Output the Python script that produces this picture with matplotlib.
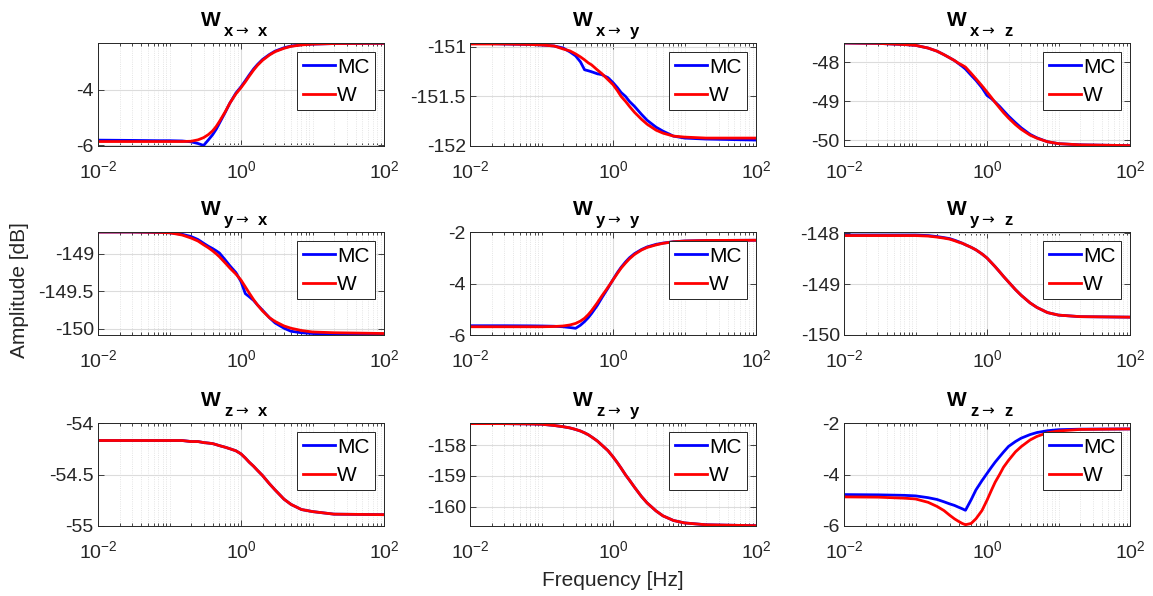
import numpy as np
import matplotlib
matplotlib.use('Agg')
import matplotlib.pyplot as plt
from matplotlib.ticker import LogLocator, NullFormatter, FormatStrFormatter

plt.rcParams['font.family'] = ['Liberation Sans', 'DejaVu Sans']
plt.rcParams['mathtext.fontset'] = 'custom'
plt.rcParams['mathtext.rm'] = 'Liberation Sans'
plt.rcParams['mathtext.it'] = 'Liberation Sans:italic'
plt.rcParams['mathtext.bf'] = 'Liberation Sans:bold'

# frequency points [Hz]
freq = [0.01, 0.03, 0.07, 0.1, 0.15, 0.2, 0.25, 0.3, 0.35, 0.4, 0.45, 0.5, 0.6, 0.7, 0.85,
        1.0, 1.15, 1.3, 1.5, 1.7, 2, 2.5, 3, 4, 5, 7, 10, 20, 100]

# panel titles: W with subscript "input -> output"
sub_in = ['x', 'x', 'x', 'y', 'y', 'y', 'z', 'z', 'z']
sub_out = ['x', 'y', 'z', 'x', 'y', 'z', 'x', 'y', 'z']

# amplitude [dB], MC = Monte Carlo, W = model
mc_xx = [-5.81, -5.82, -5.83, -5.83, -5.84, -5.87, -5.93, -6.0, -5.8, -5.62, -5.42, -5.2, -4.82, -4.48, -4.12,
         -3.9, -3.68, -3.48, -3.26, -3.1, -2.92, -2.74, -2.62, -2.5, -2.44, -2.39, -2.37, -2.35, -2.34]
w_xx = [-5.86, -5.86, -5.86, -5.86, -5.86, -5.85, -5.8, -5.72, -5.61, -5.48, -5.32, -5.14, -4.8, -4.48, -4.15,
        -3.93, -3.72, -3.52, -3.3, -3.13, -2.95, -2.76, -2.64, -2.52, -2.45, -2.4, -2.37, -2.35, -2.34]

mc_xy = [-150.96, -150.97, -150.975, -150.98, -150.99, -151.01, -151.05, -151.09, -151.15, -151.23, -151.24,
         -151.25, -151.27, -151.28, -151.31, -151.36, -151.41, -151.46, -151.5, -151.55, -151.6, -151.68,
         -151.74, -151.81, -151.85, -151.9, -151.92, -151.93, -151.94]
w_xy = [-150.97, -150.97, -150.975, -150.98, -150.99, -151.02, -151.04, -151.07, -151.1, -151.13, -151.16,
        -151.18, -151.23, -151.27, -151.33, -151.38, -151.44, -151.5, -151.55, -151.6, -151.66, -151.73,
        -151.78, -151.84, -151.87, -151.9, -151.91, -151.92, -151.92]

mc_xz = [-47.5, -47.51, -47.54, -47.56, -47.63, -47.71, -47.8, -47.88, -47.95, -48.03, -48.1, -48.17, -48.33,
         -48.46, -48.65, -48.85, -48.93, -49.02, -49.13, -49.24, -49.38, -49.55, -49.68, -49.85, -49.94,
         -50.04, -50.09, -50.12, -50.14]
w_xz = [-47.5, -47.51, -47.54, -47.56, -47.63, -47.71, -47.8, -47.88, -47.95, -48.02, -48.07, -48.12, -48.28,
        -48.42, -48.6, -48.76, -48.9, -49.03, -49.17, -49.29, -49.43, -49.6, -49.72, -49.87, -49.95,
        -50.04, -50.09, -50.12, -50.14]

mc_yx = [-148.71, -148.71, -148.715, -148.72, -148.74, -148.77, -148.81, -148.86, -148.9, -148.93, -148.96,
         -148.99, -149.08, -149.16, -149.25, -149.37, -149.53, -149.57, -149.62, -149.68, -149.75, -149.85,
         -149.92, -149.99, -150.03, -150.05, -150.06, -150.07, -150.07]
w_yx = [-148.71, -148.71, -148.715, -148.72, -148.75, -148.79, -148.83, -148.88, -148.92, -148.96, -149.0,
        -149.04, -149.12, -149.19, -149.27, -149.35, -149.44, -149.52, -149.61, -149.68, -149.76, -149.85,
        -149.9, -149.96, -149.99, -150.02, -150.04, -150.05, -150.06]

mc_yy = [-5.64, -5.64, -5.645, -5.65, -5.66, -5.68, -5.71, -5.74, -5.62, -5.48, -5.33, -5.17, -4.86, -4.55,
         -4.18, -3.85, -3.58, -3.37, -3.16, -3.0, -2.84, -2.68, -2.58, -2.48, -2.43, -2.38, -2.35, -2.33, -2.32]
w_yy = [-5.68, -5.68, -5.68, -5.68, -5.67, -5.65, -5.61, -5.55, -5.46, -5.35, -5.21, -5.06, -4.76, -4.48,
        -4.15, -3.86, -3.61, -3.4, -3.2, -3.04, -2.87, -2.7, -2.6, -2.5, -2.44, -2.38, -2.35, -2.33, -2.32]

mc_yz = [-148.04, -148.04, -148.04, -148.04, -148.05, -148.07, -148.09, -148.11, -148.14, -148.17, -148.2,
         -148.23, -148.28, -148.33, -148.41, -148.49, -148.58, -148.66, -148.76, -148.85, -148.96, -149.11,
         -149.22, -149.37, -149.46, -149.56, -149.61, -149.64, -149.65]
w_yz = [-148.05, -148.05, -148.05, -148.05, -148.06, -148.08, -148.1, -148.12, -148.15, -148.18, -148.2,
        -148.23, -148.28, -148.33, -148.41, -148.49, -148.58, -148.66, -148.76, -148.85, -148.96, -149.11,
        -149.22, -149.37, -149.46, -149.56, -149.61, -149.64, -149.65]

mc_zx = [-54.17, -54.17, -54.17, -54.17, -54.17, -54.18, -54.18, -54.19, -54.195, -54.2, -54.21, -54.22,
         -54.235, -54.25, -54.27, -54.3, -54.34, -54.38, -54.42, -54.46, -54.51, -54.59, -54.65, -54.74,
         -54.79, -54.84, -54.86, -54.885, -54.89]
w_zx = [-54.17, -54.17, -54.17, -54.17, -54.17, -54.18, -54.18, -54.19, -54.195, -54.2, -54.21, -54.22,
        -54.235, -54.25, -54.27, -54.3, -54.34, -54.38, -54.42, -54.46, -54.51, -54.59, -54.65, -54.74,
        -54.79, -54.84, -54.86, -54.885, -54.89]

mc_zy = [-157.3, -157.3, -157.31, -157.32, -157.36, -157.4, -157.44, -157.49, -157.54, -157.6, -157.66,
         -157.73, -157.86, -158.0, -158.18, -158.38, -158.57, -158.75, -158.97, -159.14, -159.37, -159.67,
         -159.88, -160.14, -160.3, -160.45, -160.53, -160.59, -160.62]
w_zy = [-157.3, -157.3, -157.31, -157.32, -157.36, -157.4, -157.44, -157.49, -157.54, -157.6, -157.66,
        -157.73, -157.86, -158.0, -158.18, -158.38, -158.57, -158.75, -158.97, -159.14, -159.37, -159.67,
        -159.88, -160.14, -160.3, -160.45, -160.53, -160.59, -160.62]

mc_zz = [-4.78, -4.79, -4.81, -4.83, -4.9, -4.97, -5.06, -5.14, -5.2, -5.27, -5.33, -5.39, -4.98, -4.6,
         -4.24, -3.96, -3.72, -3.52, -3.31, -3.13, -2.91, -2.72, -2.59, -2.45, -2.37, -2.3, -2.26, -2.24, -2.23]
w_zz = [-4.87, -4.88, -4.92, -4.95, -5.08, -5.24, -5.4, -5.58, -5.72, -5.82, -5.9, -5.95, -5.9, -5.72,
        -5.4, -5.0, -4.62, -4.3, -4.0, -3.72, -3.45, -3.12, -2.92, -2.66, -2.52, -2.38, -2.31, -2.25, -2.23]

mc_all = [mc_xx, mc_xy, mc_xz, mc_yx, mc_yy, mc_yz, mc_zx, mc_zy, mc_zz]
w_all = [w_xx, w_xy, w_xz, w_yx, w_yy, w_yz, w_zx, w_zy, w_zz]

y_limits = [(-6.02, -2.33), (-152.0, -150.96), (-50.15, -47.5),
            (-150.08, -148.71), (-6.0, -2.0), (-150.0, -147.98),
            (-55.0, -54.0), (-160.63, -157.28), (-6.0, -2.0)]
y_ticks = [[-6, -4], [-152, -151.5, -151], [-50, -49, -48],
           [-150, -149.5, -149], [-6, -4, -2], [-150, -149, -148],
           [-55, -54.5, -54], [-160, -159, -158], [-6, -4, -2]]

W, H = 1153, 596
fig = plt.figure(figsize=(W / 100, H / 100), dpi=100)

col_left = [98, 470, 844]
row_top = [43, 232, 423]
ax_w, ax_h = 286, 103
dark = '#262626'

for i in range(9):
    r, c = divmod(i, 3)
    ax = fig.add_axes([col_left[c] / W, 1 - (row_top[r] + ax_h) / H, ax_w / W, ax_h / H])
    ax.semilogx(freq, mc_all[i], color='#0000ff', lw=2, label='MC')
    ax.semilogx(freq, w_all[i], color='#ff0000', lw=2, label='W')
    ax.set_xlim(1e-2, 1e2)
    ax.set_ylim(*y_limits[i])
    ax.set_xticks([1e-2, 1e0, 1e2])
    ax.xaxis.set_minor_locator(LogLocator(base=10, subs=np.arange(1, 10), numticks=20))
    ax.xaxis.set_minor_formatter(NullFormatter())
    ax.set_yticks(y_ticks[i])
    ax.yaxis.set_major_formatter(FormatStrFormatter('%g'))
    ax.tick_params(which='both', direction='in', top=True, right=True,
                   colors=dark, labelsize=14, width=0.6)
    ax.tick_params(which='major', length=4)
    ax.tick_params(which='minor', length=2)
    ax.tick_params(axis='x', pad=10)
    ax.tick_params(axis='y', pad=3)
    ax.grid(True, which='major', color='#dcdcdc', lw=0.8)
    ax.grid(True, which='minor', color='#dcdcdc', lw=0.6, ls=':')
    ax.set_axisbelow(True)
    for s in ax.spines.values():
        s.set_color(dark)
        s.set_linewidth(0.7)

    # title: big bold W, lowered bold subscript with a thin arrow
    cx = col_left[c] + ax_w / 2
    top = row_top[r]
    fig.text((cx - 20) / W, 1 - (top - 17) / H, 'W', ha='right', va='baseline',
             fontsize=15, fontweight='bold', color='black')
    fig.text((cx - 17) / W, 1 - (top - 7) / H, sub_in[i], ha='left', va='baseline',
             fontsize=12, fontweight='bold', color='black')
    fig.text((cx - 6) / W, 1 - (top - 7.5) / H, '\u2192', ha='left', va='baseline',
             fontsize=11, family='DejaVu Sans', color='black')
    fig.text((cx + 17) / W, 1 - (top - 7) / H, sub_out[i], ha='left', va='baseline',
             fontsize=12, fontweight='bold', color='black')

    leg = ax.legend(loc='upper right', fontsize=15, handlelength=1.55,
                    handletextpad=0.1, labelspacing=0.45, borderpad=0.25,
                    borderaxespad=0.45, fancybox=False, framealpha=1)
    leg.get_frame().set_edgecolor(dark)
    leg.get_frame().set_linewidth(0.7)

fig.text(20 / W, 1 - 290 / H, 'Amplitude [dB]', rotation=90, ha='center', va='center',
         fontsize=15, color=dark)
fig.text(613 / W, 1 - 580 / H, 'Frequency [Hz]', ha='center', va='center',
         fontsize=15, color=dark)

fig.savefig('out.png', dpi=100)
